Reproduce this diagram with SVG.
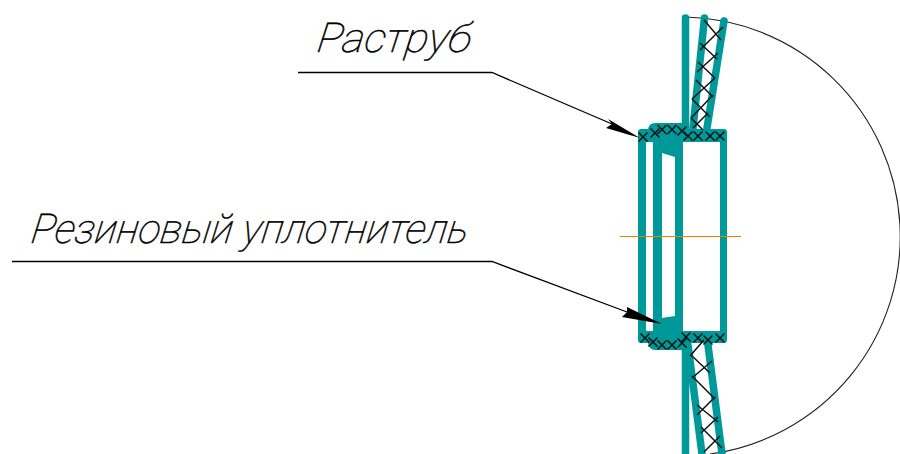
<svg xmlns="http://www.w3.org/2000/svg" width="900" height="454" viewBox="0 0 900 454">
<style>
.wall{fill:none;stroke:#009999;stroke-width:7.5;stroke-linecap:round}
.body{fill:#009999}
.cut{fill:#fff}
.hatch{fill:none;stroke:#111;stroke-width:1.5}
.lead{fill:none;stroke:#000;stroke-width:1.3}
.head{fill:#000}
.lbl{font-family:"Roboto","Liberation Sans",sans-serif;font-style:italic;font-weight:100;font-size:41px;fill:#000;stroke:#000;stroke-width:.5}
</style>
<defs>
<path id="x" class="hatch" d="M-4.500,-4.500L4.500,4.500M4.500,-4.500L-4.500,4.500"/>
</defs>
<rect width="900" height="454" fill="#fff"/>
<path id="arc" d="M685,17A219.5,219.5 0 0 1 710,454" fill="none" stroke="#222" stroke-width="1.1"/>
<g id="socket">
<line class="wall" x1="685.500" y1="18" x2="685.500" y2="128"/>
<line class="wall" x1="704.500" y1="18" x2="693" y2="128"/>
<line class="wall" x1="724" y1="21" x2="707" y2="128"/>
<line class="wall" x1="685.500" y1="345" x2="685.500" y2="454"/>
<line class="wall" x1="688" y1="345" x2="702" y2="454"/>
<line class="wall" x1="708" y1="345" x2="722" y2="454"/>
<path class="body" d="M641,129H648Q649,123 655,123H683V129H724Q727,129 727,132V340Q727,343 724,343H687V350H655Q649,350 648,343H641Q638,343 638,340V132Q638,129 641,129Z"/>
<path class="cut" d="M646,142H653V331H646Z"/>
<path class="cut" d="M662,153L675,157V316L662,318Z"/>
<path class="cut" d="M683,142H720V331H683Z"/>
<g id="flange-hatch">
<use href="#x" x="643" y="137"/><use href="#x" x="655" y="133"/><use href="#x" x="662" y="129.500"/><use href="#x" x="672" y="129.500"/><use href="#x" x="682" y="131"/><use href="#x" x="688" y="136"/><use href="#x" x="698" y="136"/><use href="#x" x="710" y="136"/><use href="#x" x="720" y="136"/>
<use href="#x" x="645" y="338"/><use href="#x" x="653" y="342"/><use href="#x" x="662" y="345"/><use href="#x" x="672" y="345"/><use href="#x" x="682" y="343"/><use href="#x" x="686" y="337"/><use href="#x" x="698" y="338"/><use href="#x" x="708" y="340"/><use href="#x" x="720" y="338"/>
</g>
<path class="hatch" d="M704,20L721,40M723,27L700,50M700,43L717,59M718,53L697,72M698,62L715,78M715,78L692,99M696,80L713,97M713,95L691,118M692,99L710,117M708,113L693,128M691,118L703,130"/>
<path class="hatch" d="M704,340L690,356M691,355L710,373M712,361L692,378M692,376L715,399M715,397L697,415M697,405L718,422M718,417L701,433M701,427L722,448M720,436L704,452"/>
</g>
<line id="axis" x1="620" y1="236.500" x2="741" y2="236.500" stroke="#f57c00" stroke-width="1"/>
<g id="connectors">
<path class="lead" d="M298,72.500H492L612,124"/>
<path class="head" d="M640,138L606,128L612,124L608,119Z"/>
<path class="lead" d="M12,261.500H492L627,312"/>
<path class="head" d="M662,324L622,317L627,312L627,307Z"/>
</g>
<g id="label-rastrub"><text class="lbl" transform="translate(316,52) skewX(-8)" textLength="154" lengthAdjust="spacingAndGlyphs">Раструб</text></g>
<g id="label-seal"><text class="lbl" transform="translate(30,243) skewX(-8)" textLength="437" lengthAdjust="spacingAndGlyphs">Резиновый уплотнитель</text></g>
</svg>
